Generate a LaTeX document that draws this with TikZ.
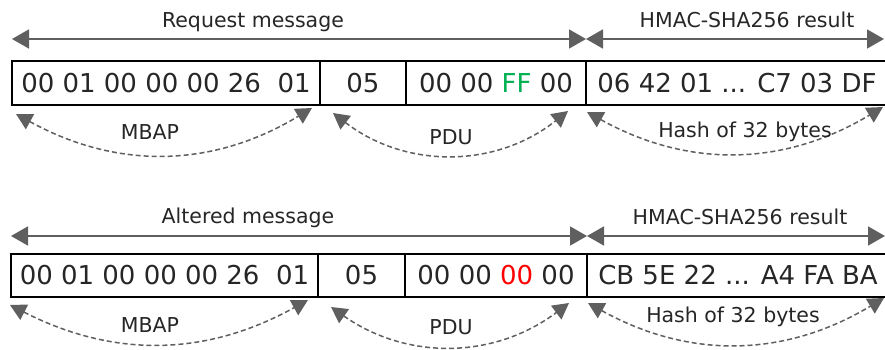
\documentclass[tikz,border=0pt]{standalone}
\usepackage{fontspec}
\setmainfont{DejaVu Sans}
\usepackage{tikz}
\usetikzlibrary{arrows.meta,positioning}
\definecolor{ink}{HTML}{262626}
\definecolor{slate}{HTML}{5F5F5F}
\definecolor{okgreen}{HTML}{00B050}
\definecolor{badred}{HTML}{FF0000}
\begin{document}
\begin{tikzpicture}[x=1pt,y=1pt,every node/.style={text=ink,inner sep=0pt,outer sep=0pt},cell/.style={draw=black,line width=1.3pt,font=\fontsize{26}{30}\selectfont},lbl/.style={font=\fontsize{20.5}{24}\selectfont},span/.style={{Triangle[length=17pt,width=19pt]}-{Triangle[length=17pt,width=19pt]},line width=1.8pt,slate},part/.style={{Triangle[length=16pt,width=17pt]}-{Triangle[length=16pt,width=17pt]},line width=1.5pt,slate,dash pattern=on 5pt off 3pt}]
\useasboundingbox (0,0) rectangle (885,350);
\node[cell,minimum width=308pt,minimum height=44pt,anchor=west] (reqhdr) at (12,267) {00 01 00 00 00 26\ \ 01};
\node[cell,minimum width=86pt,minimum height=44pt,right=0pt of reqhdr] (reqfc) {05};
\node[cell,minimum width=180pt,minimum height=44pt,right=0pt of reqfc] (reqdata) {00 00 {\color{okgreen}FF} 00};
\node[cell,minimum width=302pt,minimum height=44pt,right=0pt of reqdata] (reqmac) {06 42 01 ... C7 03 DF};
\draw[span] ([yshift=22pt]reqhdr.north west) -- ([yshift=22pt]reqdata.north east);
\draw[span] ([yshift=22pt]reqmac.north west) -- ([xshift=-4pt,yshift=22pt]reqmac.north east);
\node[lbl] (reqtitle) at (253,328) {Request message};
\node[lbl] (reqhmac) at (747,330) {HMAC-SHA256 result};
\draw[part] ([xshift=4pt,yshift=-9pt]reqhdr.south west) to[bend right=30] ([xshift=-8pt,yshift=-3pt]reqhdr.south east);
\draw[part] ([xshift=13pt,yshift=-8pt]reqfc.south west) to[bend right=38] ([xshift=-18pt,yshift=-6pt]reqdata.south east);
\draw[part] ([xshift=1pt,yshift=-7pt]reqmac.south west) to[bend right=30] ([xshift=-5pt,yshift=-2pt]reqmac.south east);
\node[lbl] (reqmbap) at (150,218) {MBAP};
\node[lbl] (reqpdu) at (451,213) {PDU};
\node[lbl] (reqhash) at (745,218) {Hash of 32 bytes};
\node[cell,minimum width=307pt,minimum height=43pt,anchor=west] (althdr) at (11,74.5) {00 01 00 00 00 26\ \ 01};
\node[cell,minimum width=87pt,minimum height=43pt,right=0pt of althdr] (altfc) {05};
\node[cell,minimum width=182pt,minimum height=43pt,right=0pt of altfc] (altdata) {00 00 {\color{badred}00} 00};
\node[cell,minimum width=302pt,minimum height=43pt,right=0pt of altdata] (altmac) {CB 5E 22 ... A4 FA BA};
\draw[span] ([yshift=18pt]althdr.north west) -- ([yshift=18pt]altdata.north east);
\draw[span] ([yshift=18pt]altmac.north west) -- ([xshift=-4pt,yshift=18pt]altmac.north east);
\node[lbl] (alttitle) at (248,132) {Altered message};
\node[lbl] (althmac) at (740,133) {HMAC-SHA256 result};
\draw[part] ([xshift=-1pt,yshift=-8pt]althdr.south west) to[bend right=28] ([xshift=-10pt,yshift=-3pt]althdr.south east);
\draw[part] ([xshift=13pt,yshift=-10pt]altfc.south west) to[bend right=36] ([xshift=-18pt,yshift=-6pt]altdata.south east);
\draw[part] ([xshift=1pt,yshift=-6pt]altmac.south west) to[bend right=30] ([xshift=-5pt,yshift=-1pt]altmac.south east);
\node[lbl] (altmbap) at (150,25) {MBAP};
\node[lbl] (altpdu) at (451,23) {PDU};
\node[lbl] (althash) at (733,33) {Hash of 32 bytes};
\end{tikzpicture}
\end{document}
